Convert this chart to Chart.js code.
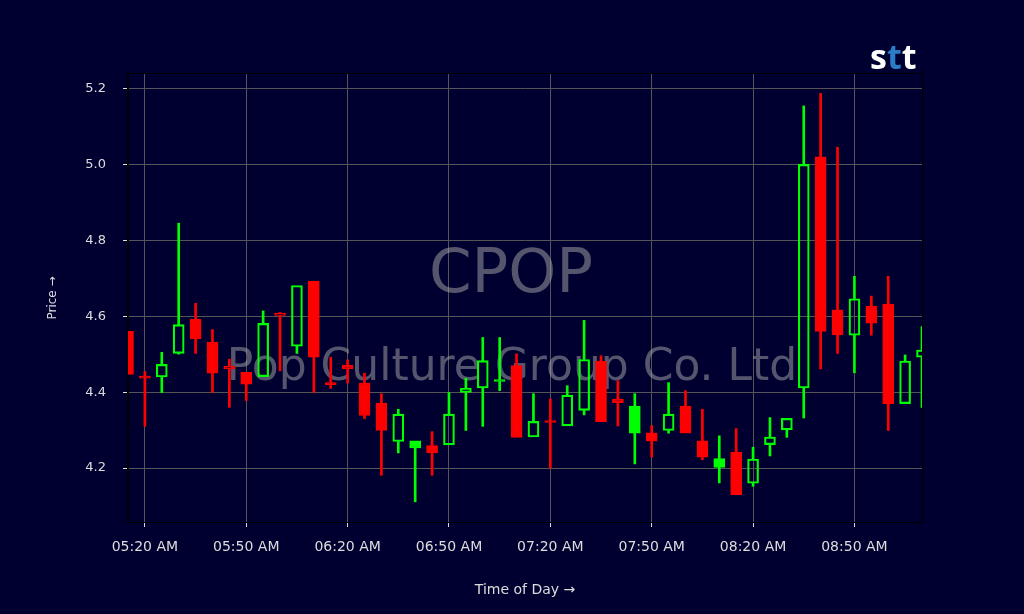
<!DOCTYPE html>
<html>
<head>
<meta charset="utf-8">
<title>CPOP</title>
<script src="https://cdn.jsdelivr.net/npm/chart.js@4.4.1/dist/chart.umd.min.js"></script>
<style>
    html, body { margin: 0; padding: 0; background: #000030; overflow: hidden; }
    canvas { display: block; }
</style>
</head>
<body>
<canvas id="myChart" width="1024" height="614"></canvas>
<script>
const times = [
    '05:15 AM', '05:20 AM', '05:25 AM', '05:30 AM', '05:35 AM', '05:40 AM', '05:45 AM', '05:50 AM',
    '05:55 AM', '06:00 AM', '06:05 AM', '06:10 AM', '06:15 AM', '06:20 AM', '06:25 AM', '06:30 AM',
    '06:35 AM', '06:40 AM', '06:45 AM', '06:50 AM', '06:55 AM', '07:00 AM', '07:05 AM', '07:10 AM',
    '07:15 AM', '07:20 AM', '07:25 AM', '07:30 AM', '07:35 AM', '07:40 AM', '07:45 AM', '07:50 AM',
    '07:55 AM', '08:00 AM', '08:05 AM', '08:10 AM', '08:15 AM', '08:20 AM', '08:25 AM', '08:30 AM',
    '08:35 AM', '08:40 AM', '08:45 AM', '08:50 AM', '08:55 AM', '09:00 AM', '09:05 AM', '09:10 AM'
];
const opens = [
    4.560, 4.442, 4.440, 4.502, 4.592, 4.532, 4.469, 4.452, 4.441, 4.608, 4.521, 4.692,
    4.424, 4.471, 4.424, 4.371, 4.270, 4.253, 4.259, 4.261, 4.399, 4.411, 4.428, 4.470,
    4.282, 4.324, 4.311, 4.352, 4.481, 4.382, 4.292, 4.293, 4.299, 4.363, 4.272, 4.202,
    4.242, 4.160, 4.262, 4.301, 4.411, 5.020, 4.617, 4.550, 4.627, 4.632, 4.370, 4.492
];
const highs = [
    4.560, 4.454, 4.505, 4.845, 4.634, 4.565, 4.487, 4.452, 4.614, 4.610, 4.681, 4.692,
    4.492, 4.485, 4.450, 4.396, 4.355, 4.272, 4.296, 4.399, 4.437, 4.544, 4.544, 4.501,
    4.396, 4.382, 4.417, 4.589, 4.496, 4.430, 4.396, 4.312, 4.425, 4.404, 4.355, 4.285,
    4.304, 4.255, 4.333, 4.331, 5.154, 5.187, 5.045, 4.705, 4.653, 4.705, 4.498, 4.573
];
const lows = [
    4.447, 4.310, 4.399, 4.500, 4.502, 4.399, 4.360, 4.378, 4.441, 4.456, 4.502, 4.399,
    4.410, 4.424, 4.330, 4.181, 4.240, 4.111, 4.181, 4.261, 4.299, 4.310, 4.404, 4.281,
    4.282, 4.200, 4.311, 4.340, 4.322, 4.311, 4.211, 4.229, 4.292, 4.292, 4.222, 4.161,
    4.130, 4.152, 4.232, 4.281, 4.332, 4.461, 4.502, 4.451, 4.550, 4.299, 4.370, 4.360
];
const closes = [
    4.447, 4.437, 4.473, 4.578, 4.540, 4.450, 4.461, 4.421, 4.581, 4.602, 4.681, 4.492,
    4.420, 4.461, 4.339, 4.299, 4.342, 4.272, 4.240, 4.342, 4.411, 4.483, 4.432, 4.281,
    4.323, 4.320, 4.392, 4.486, 4.322, 4.372, 4.363, 4.271, 4.342, 4.292, 4.229, 4.225,
    4.130, 4.224, 4.282, 4.331, 5.000, 4.560, 4.551, 4.646, 4.582, 4.370, 4.482, 4.511
];
const xTicks = ['05:20 AM', '05:50 AM', '06:20 AM', '06:50 AM', '07:20 AM', '07:50 AM', '08:20 AM', '08:50 AM'];
const yTicks = [4.2, 4.4, 4.6, 4.8, 5.0, 5.2];

const bgColor = '#000030';
const upColor = '#00ff00';
const downColor = '#ff0000';
const textColor = '#dddddd';
const gridColor = '#555555';

// colour: close vs open, fill: close vs previous close
const candleColors = opens.map((o, i) => closes[i] >= o ? upColor : downColor);
const candleFills = closes.map((c, i) => {
    const filled = i === 0 || c < closes[i - 1];
    return filled ? candleColors[i] : 'rgba(0,0,0,0)';
});

const bodies = opens.map((o, i) => [o, closes[i]]);
const upperWicks = highs.map((h, i) => {
    const top = Math.max(opens[i], closes[i]);
    return h > top ? [top, h] : null;
});
const lowerWicks = lows.map((l, i) => {
    const bottom = Math.min(opens[i], closes[i]);
    return l < bottom ? [l, bottom] : null;
});

const pageBackground = {
    id: 'pageBackground',
    beforeDraw(chart) {
        const c = chart.ctx;
        c.save();
        c.fillStyle = bgColor;
        c.fillRect(0, 0, chart.width, chart.height);
        c.restore();
    }
};

const watermark = {
    id: 'watermark',
    beforeDatasetsDraw(chart) {
        const c = chart.ctx;
        const area = chart.chartArea;
        const cx = (area.left + area.right) / 2;
        c.save();
        c.fillStyle = 'rgba(170, 170, 170, 0.5)';
        c.textAlign = 'center';
        c.textBaseline = 'alphabetic';
        c.font = '61px "DejaVu Sans"';
        c.fillText('CPOP', cx - 14, 292);
        c.font = '44px "DejaVu Sans"';
        c.fillText('Pop Culture Group Co. Ltd', cx - 13, 380);
        c.restore();
    }
};

const frameAndLogo = {
    id: 'frameAndLogo',
    afterDatasetsDraw(chart) {
        const c = chart.ctx;
        const area = chart.chartArea;
        c.save();
        c.strokeStyle = '#000000';
        c.lineWidth = 1;
        c.strokeRect(area.left - 0.5, area.top - 0.5, area.right - area.left + 1, area.bottom - area.top + 1);

        c.font = 'bold 34px "Open Sans"';
        c.textBaseline = 'alphabetic';
        c.textAlign = 'left';
        let x = 870;
        [['s', '#ffffff'], ['t', '#2b7cc4'], ['t', '#ffffff']].forEach(([ch, col]) => {
            c.fillStyle = col;
            c.fillText(ch, x, 69);
            x += c.measureText(ch).width;
        });
        c.restore();
    }
};

const ctx = document.getElementById('myChart').getContext('2d');
const myChart = new Chart(ctx, {
    type: 'bar',
    data: {
        labels: times,
        datasets: [
            {
                label: 'Body',
                data: bodies,
                backgroundColor: candleFills,
                borderColor: candleColors,
                borderWidth: 1.5,
                borderSkipped: false,
                minBarLength: 2,
                maxBarThickness: 11,
                grouped: false,
                clip: 0
            },
            {
                label: 'Upper wick',
                data: upperWicks,
                backgroundColor: candleColors,
                borderWidth: 0,
                maxBarThickness: 2,
                grouped: false,
                clip: 0
            },
            {
                label: 'Lower wick',
                data: lowerWicks,
                backgroundColor: candleColors,
                borderWidth: 0,
                maxBarThickness: 2,
                grouped: false,
                clip: 0
            }
        ]
    },
    options: {
        responsive: false,
        animation: false,
        barPercentage: 1,
        categoryPercentage: 1,
        layout: {
            padding: { left: 0, top: 74, right: 102, bottom: 0 }
        },
        plugins: {
            legend: { display: false },
            tooltip: { enabled: false }
        },
        scales: {
            x: {
                offset: false,
                grid: {
                    offset: false,
                    color: gridColor,
                    lineWidth: 1,
                    tickColor: textColor,
                    tickLength: 5
                },
                border: { color: '#000000' },
                ticks: {
                    color: textColor,
                    font: { family: 'DejaVu Sans', size: 14 },
                    padding: 11.6,
                    maxRotation: 0,
                    autoSkip: false
                },
                afterBuildTicks: axis => {
                    axis.ticks = xTicks.map(t => ({ value: times.indexOf(t) }));
                },
                afterFit: axis => { axis.height = 92; },
                title: {
                    display: true,
                    text: 'Time of Day →',
                    color: textColor,
                    font: { family: 'DejaVu Sans', size: 14 },
                    padding: { top: 0, bottom: 15.6 }
                }
            },
            y: {
                min: 4.058,
                max: 5.238,
                grid: {
                    color: gridColor,
                    lineWidth: 1,
                    tickColor: textColor,
                    tickLength: 5
                },
                border: { color: '#000000' },
                ticks: {
                    color: textColor,
                    font: { family: 'DejaVu Sans', size: 13 },
                    padding: 17,
                    callback: v => v.toFixed(1)
                },
                afterBuildTicks: axis => {
                    axis.ticks = yTicks.map(v => ({ value: v }));
                },
                afterFit: axis => { axis.width = 128; },
                title: {
                    display: true,
                    text: 'Price →',
                    color: textColor,
                    font: { family: 'DejaVu Sans', size: 12 },
                    padding: { top: 46, bottom: 0 }
                }
            }
        }
    },
    plugins: [pageBackground, watermark, frameAndLogo]
});
</script>
</body>
</html>
